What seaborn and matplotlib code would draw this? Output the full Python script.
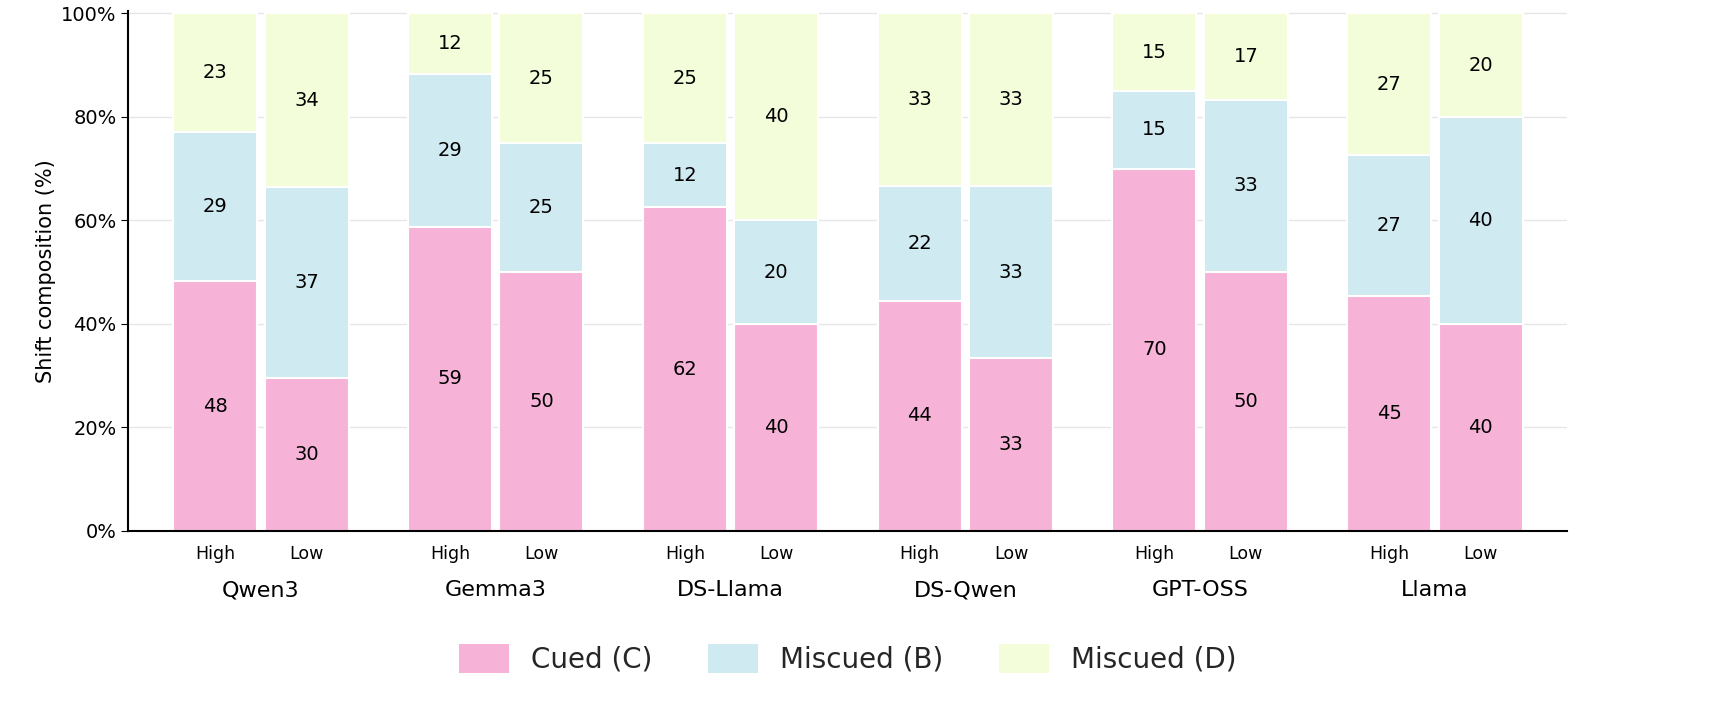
import numpy as np
import pandas as pd
import matplotlib
matplotlib.use("Agg")
import matplotlib.pyplot as plt
import matplotlib.transforms as mtrans
from matplotlib.patches import Patch
import seaborn as sns

# ---- data (percent of shifts) ----
models = ['Qwen3', 'Gemma3', 'DS-Llama', 'DS-Qwen', 'GPT-OSS', 'Llama']
levels = ['High', 'Low']
cued = [48.2, 29.5, 58.8, 50.0, 62.5, 40.0, 44.4, 33.3, 70.0, 50.0, 45.4, 40.0]
mis_b = [28.8, 36.9, 29.4, 25.0, 12.5, 20.0, 22.2, 33.3, 15.0, 33.3, 27.3, 40.0]
mis_d = [23.0, 33.6, 11.8, 25.0, 25.0, 40.0, 33.4, 33.4, 15.0, 16.7, 27.3, 20.0]

COLORS = {'Cued (C)': '#f7b3d7', 'Miscued (B)': '#cfeaf0', 'Miscued (D)': '#f3fdd9'}

sns.set_style("ticks")
plt.rcParams['font.family'] = ['DejaVu Sans']

GROUP_STEP = 2.57
pos = np.array([g * GROUP_STEP + j for g in range(len(models)) for j in range(2)])
cued = np.array(cued)
mis_b = np.array(mis_b)
mis_d = np.array(mis_d)
top_b = cued + mis_b
top_d = top_b + mis_d

fig, ax = plt.subplots(figsize=(17.13, 7.25), dpi=100)
ax.yaxis.grid(True, color='#e6e6e6', linewidth=1)
ax.set_axisbelow(True)

for vals, col in [(top_d, COLORS['Miscued (D)']), (top_b, COLORS['Miscued (B)']), (cued, COLORS['Cued (C)'])]:
    sns.barplot(x=pos, y=vals, native_scale=True, width=0.92, color=col,
                saturation=1, edgecolor='white', linewidth=1.5, ax=ax)

for x, c, b, d in zip(pos, cued, mis_b, mis_d):
    ax.text(x, c / 2, f"{c:.0f}", ha='center', va='center', fontsize=14, color='black')
    ax.text(x, c + b / 2, f"{b:.0f}", ha='center', va='center', fontsize=14, color='black')
    ax.text(x, c + b + d / 2, f"{d:.0f}", ha='center', va='center', fontsize=14, color='black')

ax.set_xlim(-0.95, pos[-1] + 0.95)
ax.set_ylim(0, 100.5)
ax.set_yticks(range(0, 101, 20))
ax.set_yticklabels([f"{v}%" for v in range(0, 101, 20)], fontsize=14, color='black')
ax.set_ylabel('Shift composition (%)', fontsize=15, color='black')
ax.set_xticks(pos)
ax.set_xticklabels(levels * len(models), fontsize=12.5, color='black')
ax.tick_params(axis='x', length=0, pad=10)
ax.tick_params(axis='y', length=5, color='black')
for s in ['top', 'right']:
    ax.spines[s].set_visible(False)
for s in ['left', 'bottom']:
    ax.spines[s].set_linewidth(1.5)
    ax.spines[s].set_color('black')

trans = mtrans.blended_transform_factory(ax.transData, ax.transAxes)
for g, m in enumerate(models):
    ax.text(g * GROUP_STEP + 0.5, -0.115, m, transform=trans, ha='center', va='center',
            fontsize=16, color='black')

handles = [Patch(facecolor=c, edgecolor='none', label=k) for k, c in COLORS.items()]
ax.legend(handles=handles, loc='upper center', bbox_to_anchor=(0.5, -0.17), ncol=3,
          frameon=False, fontsize=20, handlelength=1.8, handleheight=1.2, columnspacing=2.0)

plt.subplots_adjust(left=0.075, right=0.915, top=0.985, bottom=0.268)
plt.savefig('out.png', dpi=100)
